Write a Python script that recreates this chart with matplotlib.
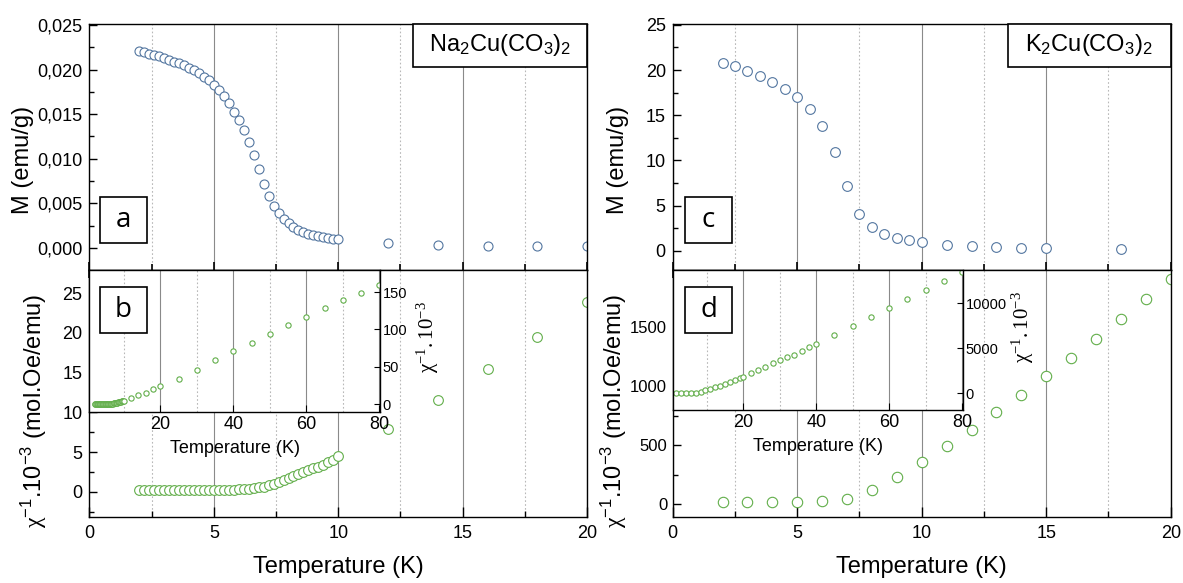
import matplotlib
matplotlib.use("Agg")
import matplotlib.pyplot as plt
from matplotlib.patches import Rectangle
from matplotlib.ticker import FuncFormatter

plt.rcParams['font.family'] = ['Liberation Sans', 'DejaVu Sans']
plt.rcParams['mathtext.fontset'] = 'custom'
plt.rcParams['mathtext.rm'] = 'Liberation Serif'
plt.rcParams['mathtext.it'] = 'Liberation Serif:italic'
plt.rcParams['mathtext.default'] = 'regular'
plt.rcParams['axes.linewidth'] = 1.0

# ---- data ----
# Na2Cu(CO3)2
na_T = [2.0, 2.2, 2.4, 2.6, 2.8, 3.0, 3.2, 3.4, 3.6, 3.8, 4.0, 4.2, 4.4, 4.6, 4.8,
        5.0, 5.2, 5.4, 5.6, 5.8, 6.0, 6.2, 6.4, 6.6, 6.8, 7.0, 7.2, 7.4, 7.6, 7.8,
        8.0, 8.2, 8.4, 8.6, 8.8, 9.0, 9.2, 9.4, 9.6, 9.8, 10.0, 12, 14, 16, 18, 20]
na_M = [0.0221, 0.02195, 0.0218, 0.0216, 0.0215, 0.0213, 0.0211, 0.0209, 0.0207, 0.0205,
        0.0202, 0.0199, 0.0196, 0.0192, 0.0188, 0.0183, 0.0177, 0.0170, 0.0162, 0.0153,
        0.0144, 0.0132, 0.0119, 0.0104, 0.0088, 0.0072, 0.0058, 0.0047, 0.0039, 0.0033,
        0.0028, 0.0023, 0.0020, 0.0018, 0.0016, 0.0014, 0.0013, 0.0012, 0.0011, 0.00105,
        0.0010, 0.00053, 0.00034, 0.00026, 0.00022, 0.0002]
na_chi = [0.20, 0.20, 0.21, 0.21, 0.22, 0.22, 0.22, 0.23, 0.23, 0.24, 0.24, 0.25, 0.25,
          0.26, 0.26, 0.27, 0.27, 0.28, 0.28, 0.29, 0.30, 0.35, 0.40, 0.48, 0.56, 0.65,
          0.80, 0.98, 1.20, 1.45, 1.70, 1.95, 2.20, 2.45, 2.70, 2.95, 3.15, 3.40, 3.70,
          4.05, 4.45, 7.9, 11.5, 15.4, 19.5, 23.9]
na_T_hi = [25, 30, 35, 40, 45, 50, 55, 60, 65, 70, 75, 80]
na_chi_hi = [34, 46, 58.5, 70.5, 82, 94, 106, 117, 128, 139.5, 149, 159.5]

# K2Cu(CO3)2
k_T = [2.0, 2.5, 3.0, 3.5, 4.0, 4.5, 5.0, 5.5, 6.0, 6.5, 7.0, 7.5, 8.0, 8.5, 9.0, 9.5,
       10.0, 11, 12, 13, 14, 15, 18]
k_M = [20.75, 20.4, 19.9, 19.35, 18.7, 17.9, 17.0, 15.65, 13.8, 10.95, 7.2, 4.1, 2.6,
       1.8, 1.37, 1.18, 0.93, 0.63, 0.52, 0.37, 0.33, 0.26, 0.15]
k_T_chi = [2, 3, 4, 5, 6, 7, 8, 9, 10, 11, 12, 13, 14, 15, 16, 17, 18, 19, 20]
k_chi = [13.6, 13.6, 13.6, 13.6, 22, 42, 119, 226, 353, 489, 629, 778, 926, 1081,
         1240, 1402, 1566, 1736, 1910]
k_T_ins = [1.6, 2.9, 4.3, 5.6, 6.9, 8.4, 9.5, 10.9, 12.3, 13.6, 15.0, 16.4, 17.7, 19.1,
           20.0, 22, 24, 26, 28, 30, 32, 34, 36, 38, 40, 45, 50, 55, 60, 65, 70, 75, 80]
k_chi_ins = [20, 20, 20, 20, 40, 110, 330, 500, 700, 870, 1080, 1290, 1470, 1680, 1850,
             2250, 2600, 2980, 3330, 3680, 4000, 4300, 4700, 5150, 5500, 6480, 7480,
             8520, 9450, 10440, 11480, 12520, 13500]

main_ticks = [0, 5, 10, 15, 20]
main_minor = [2.5, 7.5, 12.5, 17.5]
ins_ticks = [20, 40, 60, 80]
ins_minor = [10, 30, 50, 70]

BLUE = '#5376a0'
GREEN = '#62ae4a'

W, H = 1183, 583
fig = plt.figure(figsize=(W / 100, H / 100), dpi=100)


def rect(x0, y0, x1, y1):
    return [x0 / W, 1 - y1 / H, (x1 - x0) / W, (y1 - y0) / H]


def style_main(ax, top):
    ax.set_xlim(0, 20)
    ax.set_xticks(main_ticks)
    ax.set_xticks(main_minor, minor=True)
    ax.grid(axis='x', which='major', color='#8a8a8a', lw=0.8)
    ax.grid(axis='x', which='minor', color='#b8b8b8', lw=0.8, ls=(0, (1.5, 2)))
    ax.set_axisbelow(True)
    ax.tick_params(axis='y', which='both', direction='in', left=True, right=False,
                   labelsize=13, pad=5)
    ax.tick_params(axis='y', which='major', length=6, width=1)
    ax.tick_params(axis='y', which='minor', length=3.5, width=1)
    if top:
        ax.tick_params(axis='x', which='both', direction='inout', bottom=True, top=False,
                       labelbottom=False, width=1.2)
        ax.tick_params(axis='x', which='major', length=12)
        ax.tick_params(axis='x', which='minor', length=8)
    else:
        ax.tick_params(axis='x', which='both', direction='in', bottom=True, top=False,
                       labelsize=13, pad=6, width=1)
        ax.tick_params(axis='x', which='major', length=7)
        ax.tick_params(axis='x', which='minor', length=4)
        ax.set_xlabel('Temperature (K)', fontsize=17, labelpad=10)


def style_inset(ax):
    ax.set_xlim(0.6, 80.2)
    ax.set_xticks(ins_ticks)
    ax.set_xticks(ins_minor, minor=True)
    ax.grid(axis='x', which='major', color='#8a8a8a', lw=0.8)
    ax.grid(axis='x', which='minor', color='#b8b8b8', lw=0.8, ls=(0, (1.5, 2)))
    ax.set_axisbelow(True)
    ax.yaxis.tick_right()
    ax.tick_params(axis='y', which='both', direction='in', labelsize=10.5, pad=2, length=4)
    ax.tick_params(axis='x', which='major', direction='in', labelsize=13, pad=3, length=5)
    ax.tick_params(axis='x', which='minor', length=0)
    ax.set_xlabel('Temperature (K)', fontsize=13, labelpad=5)


def label_box(x0, y0, x1, y1, text, size, family):
    fig.add_artist(Rectangle((x0 / W, 1 - y1 / H), (x1 - x0) / W, (y1 - y0) / H,
                             transform=fig.transFigure, facecolor='white',
                             edgecolor='black', lw=1.2, zorder=5))
    fig.text((x0 + x1) / 2 / W, 1 - (y0 + y1) / 2 / H, text, fontsize=size,
             family=family, ha='center', va='center', zorder=6)


ax_a = fig.add_axes(rect(89.5, 24, 587, 270))
ax_b = fig.add_axes(rect(89.5, 270, 587, 516.5))
ax_c = fig.add_axes(rect(672.7, 24, 1170.7, 270))
ax_d = fig.add_axes(rect(672.7, 270, 1170.7, 516.5))
in_b = fig.add_axes(rect(89.5, 270, 380, 412))
in_d = fig.add_axes(rect(672.7, 270, 962.7, 410))

mk = dict(ls='none', marker='o', mfc='white', mew=0.8)
mk_in = dict(ls='none', marker='o', mfc='white', mew=0.8, ms=3.8)

# (a)
ax_a.plot(na_T, na_M, mec=BLUE, ms=6.5, **mk)
ax_a.set_ylim(-0.00247, 0.02511)
ax_a.set_yticks([0, 0.005, 0.010, 0.015, 0.020, 0.025])
ax_a.set_yticks([0.0025, 0.0075, 0.0125, 0.0175, 0.0225], minor=True)
ax_a.yaxis.set_major_formatter(FuncFormatter(lambda v, p: f'{v:.3f}'.replace('.', ',')))
style_main(ax_a, True)

# (b)
ax_b.plot(na_T, na_chi, mec=GREEN, ms=7, **mk)
ax_b.set_ylim(-3.1, 27.9)
ax_b.set_yticks([0, 5, 10, 15, 20, 25])
ax_b.set_yticks([-2.5, 2.5, 7.5, 12.5, 17.5, 22.5], minor=True)
style_main(ax_b, False)

in_b.plot(na_T + na_T_hi, na_chi + na_chi_hi, mec=GREEN, **mk_in)
in_b.set_ylim(-10.7, 179.5)
in_b.set_yticks([0, 50, 100, 150])
style_inset(in_b)

# (c)
ax_c.plot(k_T, k_M, mec=BLUE, ms=7, **mk)
ax_c.set_ylim(-2.14, 25.1)
ax_c.set_yticks([0, 5, 10, 15, 20, 25])
ax_c.set_yticks([2.5, 7.5, 12.5, 17.5, 22.5], minor=True)
style_main(ax_c, True)

# (d)
ax_d.plot(k_T_chi, k_chi, mec=GREEN, ms=7.5, **mk)
ax_d.set_ylim(-105, 1982)
ax_d.set_yticks([0, 500, 1000, 1500])
ax_d.set_yticks([250, 750, 1250, 1750], minor=True)
style_main(ax_d, False)
ax_d.tick_params(axis='y', labelsize=12, pad=4)

in_d.plot(k_T_ins, k_chi_ins, mec=GREEN, **mk_in)
in_d.set_ylim(-1850, 13700)
in_d.set_yticks([0, 5000, 10000])
style_inset(in_d)

# axis titles
fig.text(22.5 / W, 1 - 160 / H, 'M (emu/g)', rotation=90, fontsize=17, ha='center', va='center')
fig.text(618 / W, 1 - 160 / H, 'M (emu/g)', rotation=90, fontsize=17, ha='center', va='center')
chi_lbl = r'$\mathrm{\chi}^{-1}$.10$^{-3}$ (mol.Oe/emu)'
fig.text(34 / W, 1 - 411 / H, chi_lbl, rotation=90, fontsize=17, ha='center', va='center')
fig.text(614 / W, 1 - 411 / H, chi_lbl, rotation=90, fontsize=17, ha='center', va='center')
ins_lbl = r'$\mathrm{\chi^{-1}.10^{-3}}$'
fig.text(428 / W, 1 - 337 / H, ins_lbl, rotation=90, fontsize=15, ha='center', va='center')
fig.text(1023 / W, 1 - 327 / H, ins_lbl, rotation=90, fontsize=15, ha='center', va='center')

# panel letters and compound names
label_box(100, 197, 147, 243, 'a', 20, 'Open Sans')
label_box(100, 287, 147, 333, 'b', 20, 'Open Sans')
label_box(685, 197, 732, 243, 'c', 20, 'Open Sans')
label_box(685, 287, 732, 333, 'd', 20, 'Open Sans')
label_box(412.7, 24, 587, 67, 'Na$_2$Cu(CO$_3$)$_2$', 17, 'Liberation Sans')
label_box(1007.7, 24, 1170.7, 67, 'K$_2$Cu(CO$_3$)$_2$', 17, 'Liberation Sans')

fig.savefig('out.png', dpi=100)
